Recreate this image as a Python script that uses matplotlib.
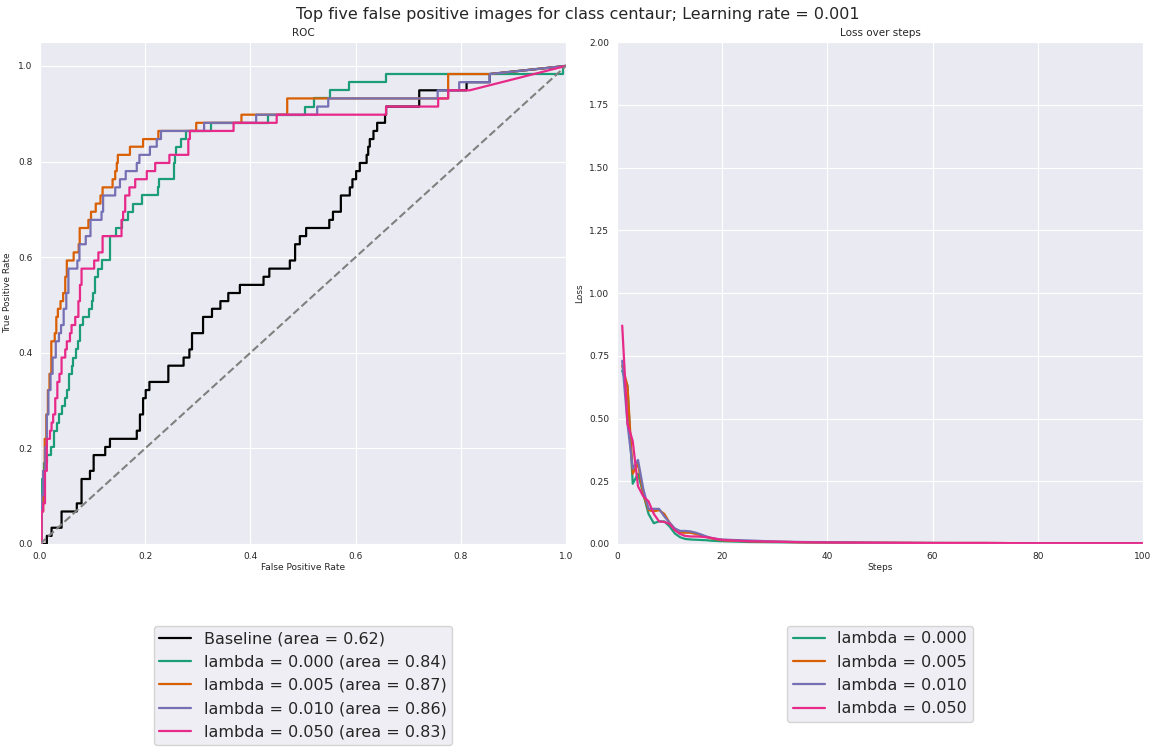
import matplotlib
matplotlib.use("Agg")
import matplotlib.pyplot as plt
import seaborn as sns

sns.set_style("darkgrid")

# ROC: points where each curve rises (fpr, tpr after the rise)
base_fpr = [0.013, 0.022, 0.041, 0.070, 0.079, 0.095, 0.102, 0.124, 0.133, 0.184, 0.190, 0.196,
            0.201, 0.208, 0.244, 0.273, 0.284, 0.289, 0.310, 0.327, 0.343, 0.358, 0.380, 0.425,
            0.436, 0.475, 0.485, 0.494, 0.506, 0.550, 0.557, 0.572, 0.589, 0.594, 0.601, 0.608,
            0.621, 0.624, 0.627, 0.634, 0.641, 0.656, 0.658, 0.721, 0.811, 0.855]
base_tpr = [0.017, 0.034, 0.068, 0.085, 0.136, 0.153, 0.186, 0.203, 0.220, 0.237, 0.271, 0.305,
            0.322, 0.339, 0.373, 0.390, 0.407, 0.441, 0.475, 0.492, 0.508, 0.525, 0.542, 0.559,
            0.576, 0.593, 0.627, 0.644, 0.661, 0.678, 0.695, 0.729, 0.746, 0.763, 0.780, 0.797,
            0.814, 0.831, 0.847, 0.864, 0.881, 0.898, 0.915, 0.949, 0.966, 0.983]

l000_fpr = [0.002, 0.004, 0.008, 0.013, 0.021, 0.027, 0.033, 0.037, 0.042, 0.047, 0.052, 0.056,
            0.060, 0.063, 0.069, 0.072, 0.077, 0.082, 0.094, 0.098, 0.101, 0.105, 0.110, 0.117,
            0.134, 0.144, 0.155, 0.168, 0.176, 0.194, 0.225, 0.227, 0.255, 0.257, 0.259, 0.269,
            0.278, 0.326, 0.434, 0.504, 0.520, 0.551, 0.588, 0.658, 0.994]
l000_tpr = [0.068, 0.136, 0.169, 0.186, 0.203, 0.237, 0.254, 0.271, 0.288, 0.305, 0.322, 0.356,
            0.373, 0.390, 0.407, 0.424, 0.458, 0.475, 0.492, 0.508, 0.525, 0.559, 0.576, 0.593,
            0.644, 0.661, 0.678, 0.695, 0.712, 0.729, 0.746, 0.763, 0.797, 0.814, 0.831, 0.847,
            0.864, 0.881, 0.898, 0.915, 0.932, 0.949, 0.966, 0.983, 1.000]

l005_fpr = [0.003, 0.006, 0.009, 0.012, 0.015, 0.018, 0.0215, 0.028, 0.031, 0.034, 0.039, 0.044,
            0.048, 0.051, 0.064, 0.0735, 0.0755, 0.092, 0.097, 0.106, 0.115, 0.119, 0.138, 0.143,
            0.146, 0.148, 0.171, 0.196, 0.225, 0.297, 0.383, 0.470, 0.776, 0.855]
l005_tpr = [0.068, 0.153, 0.220, 0.271, 0.322, 0.356, 0.424, 0.441, 0.475, 0.492, 0.508, 0.525,
            0.559, 0.593, 0.610, 0.627, 0.661, 0.678, 0.695, 0.712, 0.729, 0.746, 0.763, 0.780,
            0.797, 0.814, 0.831, 0.847, 0.864, 0.881, 0.898, 0.932, 0.983, 0.983]

l010_fpr = [0.003, 0.006, 0.010, 0.013, 0.016, 0.020, 0.024, 0.030, 0.036, 0.040, 0.045, 0.050,
            0.054, 0.071, 0.075, 0.087, 0.096, 0.117, 0.120, 0.143, 0.152, 0.163, 0.184, 0.189,
            0.209, 0.222, 0.230, 0.312, 0.411, 0.527, 0.548, 0.756, 0.797, 0.855]
l010_tpr = [0.102, 0.153, 0.203, 0.271, 0.322, 0.356, 0.390, 0.424, 0.441, 0.458, 0.492, 0.525,
            0.576, 0.593, 0.627, 0.644, 0.678, 0.695, 0.729, 0.746, 0.763, 0.780, 0.797, 0.814,
            0.831, 0.847, 0.864, 0.881, 0.898, 0.915, 0.932, 0.949, 0.966, 0.983]

l050_fpr = [0.003, 0.006, 0.0095, 0.013, 0.019, 0.022, 0.025, 0.029, 0.033, 0.037, 0.041, 0.048,
            0.051, 0.057, 0.060, 0.067, 0.073, 0.076, 0.079, 0.103, 0.111, 0.119, 0.155, 0.158,
            0.162, 0.170, 0.181, 0.203, 0.219, 0.246, 0.282, 0.285, 0.368, 0.450, 0.658, 0.757,
            0.776, 0.817]
l050_tpr = [0.068, 0.085, 0.153, 0.220, 0.237, 0.254, 0.271, 0.305, 0.339, 0.356, 0.390, 0.407,
            0.424, 0.441, 0.458, 0.475, 0.508, 0.542, 0.576, 0.593, 0.610, 0.644, 0.678, 0.695,
            0.729, 0.746, 0.763, 0.780, 0.797, 0.814, 0.847, 0.864, 0.881, 0.898, 0.915, 0.932,
            0.949, 0.949]

roc_labels = ["Baseline (area = 0.62)", "lambda = 0.000 (area = 0.84)",
              "lambda = 0.005 (area = 0.87)", "lambda = 0.010 (area = 0.86)",
              "lambda = 0.050 (area = 0.83)"]

# loss per training step
steps = [1, 2, 3, 4, 5, 6, 7, 8, 9, 10, 11, 12, 13, 14, 15, 16, 17, 18, 19, 20,
         22, 25, 30, 35, 40, 50, 60, 70, 80, 90, 100]
loss_000 = [0.69, 0.63, 0.24, 0.28, 0.20, 0.12, 0.083, 0.09, 0.09, 0.07, 0.042, 0.027, 0.02,
            0.018, 0.017, 0.016, 0.015, 0.013, 0.012, 0.011, 0.010, 0.008, 0.007, 0.006,
            0.005, 0.004, 0.004, 0.003, 0.003, 0.003, 0.003]
loss_005 = [0.71, 0.63, 0.28, 0.32, 0.20, 0.135, 0.13, 0.135, 0.12, 0.085, 0.058, 0.046, 0.045,
            0.045, 0.04, 0.035, 0.028, 0.022, 0.018, 0.015, 0.013, 0.011, 0.009, 0.007,
            0.006, 0.005, 0.004, 0.004, 0.003, 0.003, 0.003]
loss_010 = [0.73, 0.48, 0.30, 0.335, 0.22, 0.14, 0.14, 0.14, 0.11, 0.085, 0.062, 0.052, 0.052,
            0.05, 0.045, 0.038, 0.03, 0.024, 0.02, 0.018, 0.016, 0.014, 0.010, 0.008,
            0.007, 0.005, 0.004, 0.004, 0.003, 0.003, 0.003]
loss_050 = [0.87, 0.48, 0.41, 0.23, 0.19, 0.17, 0.12, 0.09, 0.088, 0.08, 0.055, 0.04, 0.032,
            0.03, 0.03, 0.029, 0.027, 0.024, 0.02, 0.016, 0.014, 0.011, 0.009, 0.007,
            0.006, 0.005, 0.004, 0.004, 0.003, 0.003, 0.003]
loss_labels = ["lambda = 0.000", "lambda = 0.005", "lambda = 0.010", "lambda = 0.050"]

colors = ["#1b9e77", "#d95f02", "#7570b3", "#e7298a"]


def roc_path(fpr, tpr):
    # expand rise points into a step curve, closing to (1, 1)
    xs, ys = [0.0], [0.0]
    for x, y in zip(fpr, tpr):
        xs += [x, x]
        ys += [ys[-1], y]
    xs.append(1.0)
    ys.append(1.0)
    return xs, ys


fig = plt.figure(figsize=(11.56, 7.49), dpi=100)
ax1 = fig.add_axes([0.0346, 0.2737, 0.455, 0.6702])
ax2 = fig.add_axes([0.5337, 0.2737, 0.455, 0.6702])

fig.suptitle("Top five false positive images for class centaur; Learning rate = 0.001",
             fontsize=11.5, y=0.99, color=".15")

# ROC
xs, ys = roc_path(base_fpr, base_tpr)
ax1.plot(xs, ys, color="black", lw=1.6, label=roc_labels[0])
roc_sets = [(l000_fpr, l000_tpr), (l005_fpr, l005_tpr), (l010_fpr, l010_tpr), (l050_fpr, l050_tpr)]
for (f, t), c, lab in zip(roc_sets, colors, roc_labels[1:]):
    xs, ys = roc_path(f, t)
    ax1.plot(xs, ys, color=c, lw=1.6, label=lab)
ax1.plot([0, 1], [0, 1], color="gray", lw=1.5, ls="--")
ax1.set_xlim(0, 1)
ax1.set_ylim(0, 1.05)
ax1.set_title("ROC", fontsize=7.5, pad=4)
ax1.set_xlabel("False Positive Rate", fontsize=6.5, labelpad=2)
ax1.set_ylabel("True Positive Rate", fontsize=6.5, labelpad=4)
ax1.tick_params(labelsize=6.5, pad=2)
ax1.legend(loc="upper center", bbox_to_anchor=(0.5, -0.147), fontsize=11.5,
           frameon=True, handlelength=2.0, borderpad=0.35, labelspacing=0.52)

# Loss
for vals, c, lab in zip([loss_000, loss_005, loss_010, loss_050], colors, loss_labels):
    ax2.plot(steps, vals, color=c, lw=1.6, label=lab)
ax2.set_xlim(0, 100)
ax2.set_ylim(0, 2.0)
ax2.set_yticks([0, 0.25, 0.5, 0.75, 1.0, 1.25, 1.5, 1.75, 2.0])
ax2.set_title("Loss over steps", fontsize=7.5, pad=4)
ax2.set_xlabel("Steps", fontsize=6.5, labelpad=2)
ax2.set_ylabel("Loss", fontsize=6.5, labelpad=4)
ax2.tick_params(labelsize=6.5, pad=2)
ax2.legend(loc="upper center", bbox_to_anchor=(0.5, -0.147), fontsize=11.5,
           frameon=True, handlelength=2.0, borderpad=0.35, labelspacing=0.52)

fig.savefig("out.png", dpi=100)
